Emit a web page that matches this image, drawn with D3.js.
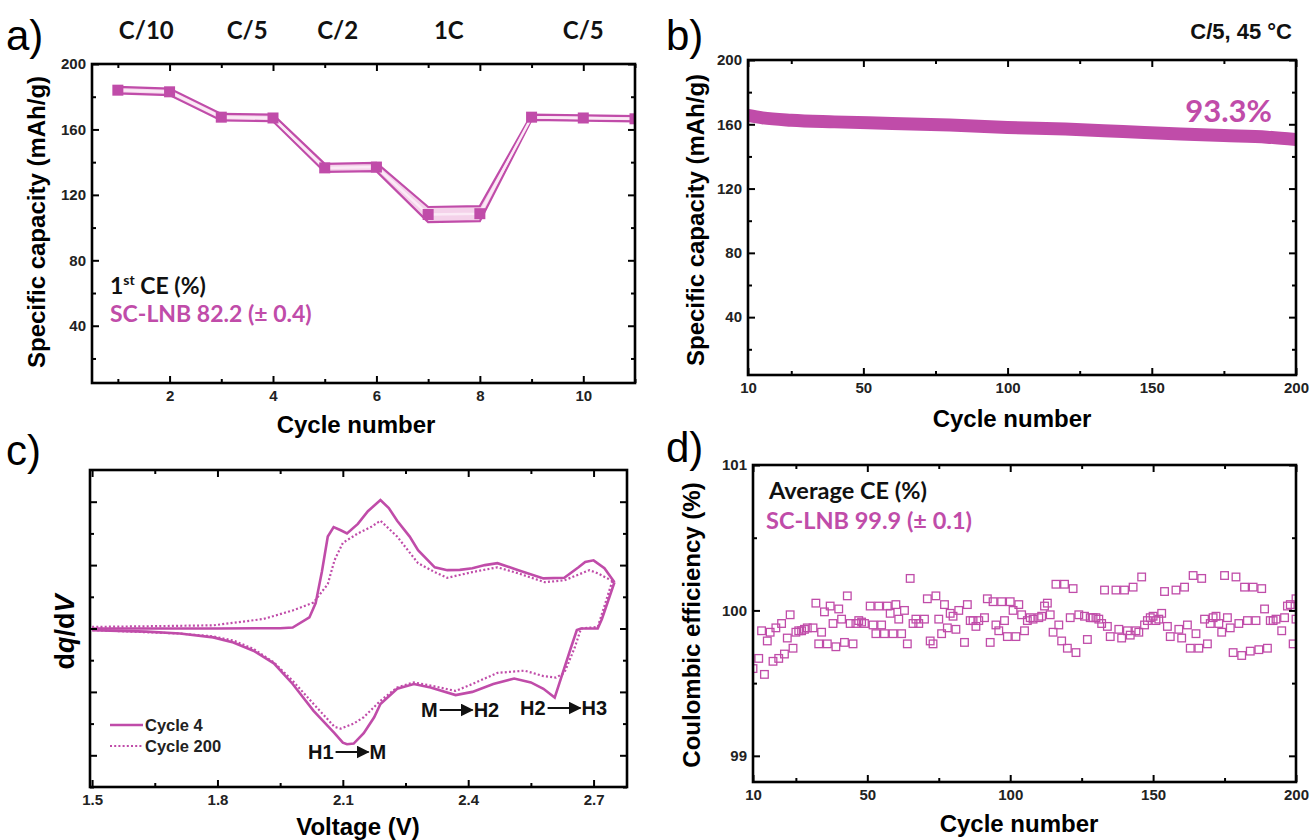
<!DOCTYPE html>
<html>
<head>
<meta charset="utf-8">
<script src="https://cdn.jsdelivr.net/npm/d3@7"></script>
<style>
  body { margin: 0; background: #fff; }
  text { font-family: "Liberation Sans", Arial, sans-serif; }
  .cal { font-family: Lato, "Open Sans", sans-serif; font-weight: 700; }
</style>
</head>
<body>
<svg id="fig" width="1311" height="840"></svg>
<script>
// ---- panel a : rate capability ----
const rateCycles = [1, 2, 3, 4, 5, 6, 7, 8, 9, 10, 11];
const rateMean = [184, 183, 167.5, 167, 136.5, 137, 108, 108.5, 167.5, 167, 166.5];
const rateErr = [2, 2, 2, 2, 2.5, 2.5, 4.6, 4.6, 1.6, 1.6, 1.6];
const rateLabels = ["C/10", "C/5", "C/2", "1C", "C/5"];
const rateLabelCycle = [1.55, 3.5, 5.25, 7.4, 10];

// ---- panel b : cycling at C/5, 45 °C ----
const cycCycles = [10, 15, 25, 40, 60, 80, 100, 120, 140, 160, 175, 190, 200];
const cycCapacity = [165.5, 164, 162.5, 161.5, 160.5, 159.5, 158, 157, 155.5, 154, 153, 152, 150.5];

// ---- panel c : dq/dV (arbitrary units) ----
const c4ChargeV = [1.5, 1.8, 1.95, 1.98, 2.02, 2.035, 2.05, 2.064, 2.078, 2.095, 2.11, 2.136, 2.16, 2.19, 2.21, 2.23, 2.26, 2.28, 2.32, 2.35, 2.38, 2.41, 2.44, 2.47, 2.52, 2.58, 2.63, 2.664, 2.68, 2.7, 2.726, 2.75];
const c4Charge = [0, 0, 0.01, 0.03, 0.35, 0.8, 1.8, 2.9, 3.2, 3.1, 3.0, 3.3, 3.7, 4.05, 3.8, 3.4, 2.9, 2.47, 1.93, 1.84, 1.85, 1.9, 2.0, 2.06, 1.84, 1.58, 1.6, 1.93, 2.1, 2.15, 1.9, 1.46];
const c4DischargeV = [2.75, 2.72, 2.71, 2.67, 2.66, 2.646, 2.607, 2.58, 2.55, 2.51, 2.46, 2.41, 2.37, 2.31, 2.27, 2.23, 2.19, 2.175, 2.15, 2.126, 2.11, 2.1, 2.08, 2.03, 1.98, 1.935, 1.886, 1.838, 1.79, 1.71, 1.63, 1.5];
const c4Discharge = [1.46, 0.3, 0.0, 0.0, -0.05, -0.6, -2.18, -1.9, -1.7, -1.58, -1.75, -2.0, -2.1, -1.86, -1.75, -1.9, -2.38, -2.8, -3.3, -3.63, -3.65, -3.6, -3.3, -2.6, -1.75, -1.1, -0.7, -0.44, -0.28, -0.16, -0.1, -0.05];
const c200ChargeV = [1.5, 1.63, 1.79, 1.91, 1.98, 2.03, 2.064, 2.08, 2.1, 2.136, 2.167, 2.19, 2.23, 2.28, 2.32, 2.35, 2.41, 2.47, 2.52, 2.583, 2.63, 2.69, 2.71, 2.745];
const c200Charge = [0.05, 0.07, 0.1, 0.3, 0.57, 0.82, 1.4, 2.15, 2.7, 3.0, 3.2, 3.4, 2.9, 2.06, 1.78, 1.6, 1.78, 1.93, 1.74, 1.46, 1.52, 1.84, 1.74, 1.5];
const c200DischargeV = [2.745, 2.71, 2.67, 2.655, 2.63, 2.61, 2.58, 2.535, 2.47, 2.41, 2.37, 2.31, 2.27, 2.23, 2.19, 2.15, 2.126, 2.095, 2.08, 2.03, 1.98, 1.935, 1.886, 1.838, 1.79, 1.71, 1.5];
const c200Discharge = [1.5, 0.05, 0.0, -0.6, -1.4, -1.55, -1.5, -1.33, -1.4, -1.75, -1.97, -1.8, -1.7, -1.86, -2.28, -2.8, -3.0, -3.16, -3.1, -2.38, -1.65, -1.07, -0.64, -0.38, -0.25, -0.16, -0.05];

// ---- panel d : coulombic efficiency ----
const ceCycles = [10, 12, 13, 14, 15, 16, 17, 18, 19, 20, 21, 22, 23, 24, 25, 26, 27, 28, 29, 31, 32, 33, 34, 35, 36, 37, 38, 39, 40, 41,
  42, 43, 44, 45, 46, 47, 48, 49, 51, 52, 53, 54, 55, 56, 57, 58, 59, 60, 61, 62, 63, 64, 65, 66, 67, 68, 70, 71, 72, 73,
  74, 75, 76, 77, 78, 79, 80, 81, 82, 84, 85, 86, 87, 88, 89, 91, 92, 93, 94, 95, 96, 97, 98, 99, 100, 101, 102, 103, 104, 105,
  106, 107, 108, 110, 111, 112, 113, 114, 115, 116, 117, 118, 119, 120, 121, 122, 123, 124, 126, 127, 128, 129, 130, 131, 132, 133, 134, 135, 137, 138,
  139, 140, 141, 142, 143, 144, 145, 146, 147, 148, 149, 150, 151, 152, 153, 154, 155, 156, 158, 159, 160, 161, 162, 163, 164, 165, 166, 167, 168, 169,
  170, 171, 172, 173, 174, 175, 176, 177, 178, 179, 180, 181, 182, 183, 184, 185, 186, 187, 188, 189, 190, 191, 192, 193, 195, 196, 197, 198, 199, 200, 200];
const ceValues = [99.60, 99.67, 99.86, 99.56, 99.79, 99.85, 99.65, 99.88, 99.67, 99.91, 99.70, 99.81, 99.97, 99.74, 99.85, 99.86, 99.86, 99.87, 99.88, 99.88, 100.05, 99.77, 99.85, 99.99, 99.77, 100.03, 99.91, 99.75, 100.01, 99.94,
  99.78, 100.10, 99.91, 99.77, 99.91, 99.93, 99.92, 99.91, 100.03, 99.90, 99.84, 100.03, 99.90, 99.84, 100.03, 99.98, 99.84, 100.04, 99.94, 99.84, 100.00, 99.77, 100.22, 99.91, 99.94, 99.91, 99.94, 100.08, 99.79, 99.77,
  100.10, 99.94, 99.84, 100.04, 99.88, 99.98, 99.96, 99.87, 100.00, 99.78, 100.04, 99.93, 99.93, 99.89, 99.93, 99.95, 100.08, 99.78, 100.06, 99.90, 99.86, 100.06, 99.93, 99.82, 100.06, 100.00, 99.82, 100.04, 99.97, 99.86,
  99.93, 99.95, 99.94, 99.95, 99.96, 100.03, 100.05, 99.97, 99.85, 100.18, 99.90, 99.79, 100.18, 99.74, 99.95, 100.15, 99.71, 99.97, 99.96, 99.80, 99.95, 99.95, 99.95, 99.94, 99.91, 100.14, 99.89, 99.82, 100.14, 99.87,
  99.81, 100.14, 99.86, 99.83, 100.16, 99.86, 99.85, 100.23, 99.90, 99.93, 99.95, 99.96, 99.93, 99.94, 99.98, 100.13, 99.89, 99.82, 100.14, 99.87, 99.81, 100.16, 99.90, 99.74, 100.24, 99.84, 99.74, 100.22, 99.94, 99.77,
  99.91, 99.95, 99.96, 99.91, 99.85, 100.24, 99.95, 99.88, 99.71, 100.23, 99.91, 99.69, 100.16, 99.93, 99.72, 100.16, 99.93, 99.73, 100.15, 100.01, 99.74, 99.93, 99.93, 99.94, 99.86, 99.95, 100.03, 100.04, 99.77, 99.94, 100.08];

const pink = "#c04ca9";
const bandFill = "#f4d2ea";
const svg = d3.select("#fig");
const defs = svg.append("defs");

// draws box with inward ticks on all four sides
function frame(x, y, xMajor, xMinor, yMajor, yMinor, xFmt, yFmt) {
  const g = svg.append("g");
  const [l, r] = x.range(), [b, t] = y.range();
  const none = () => "";
  g.append("g").attr("transform", `translate(0,${b})`)
    .call(d3.axisBottom(x).tickValues(xMajor).tickSize(-7).tickPadding(7).tickFormat(xFmt || none));
  g.append("g").attr("transform", `translate(0,${t})`)
    .call(d3.axisTop(x).tickValues(xMajor).tickSize(-7).tickFormat(none));
  g.append("g").attr("transform", `translate(${l},0)`)
    .call(d3.axisLeft(y).tickValues(yMajor).tickSize(-7).tickPadding(6).tickFormat(yFmt || none));
  g.append("g").attr("transform", `translate(${r},0)`)
    .call(d3.axisRight(y).tickValues(yMajor).tickSize(-7).tickFormat(none));
  g.append("g").attr("transform", `translate(0,${b})`)
    .call(d3.axisBottom(x).tickValues(xMinor).tickSize(-4).tickFormat(none));
  g.append("g").attr("transform", `translate(0,${t})`)
    .call(d3.axisTop(x).tickValues(xMinor).tickSize(-4).tickFormat(none));
  g.append("g").attr("transform", `translate(${l},0)`)
    .call(d3.axisLeft(y).tickValues(yMinor).tickSize(-4).tickFormat(none));
  g.append("g").attr("transform", `translate(${r},0)`)
    .call(d3.axisRight(y).tickValues(yMinor).tickSize(-4).tickFormat(none));
  g.selectAll(".domain").remove();
  g.selectAll(".tick line").attr("stroke", "#000").attr("stroke-width", 2);
  g.selectAll(".tick text").attr("font-size", 15).attr("font-weight", "bold")
    .attr("fill", "#222").attr("font-family", "'Liberation Sans', Arial, sans-serif");
  g.append("rect").attr("x", l).attr("y", t).attr("width", r - l).attr("height", b - t)
    .attr("fill", "none").attr("stroke", "#000").attr("stroke-width", 2.6);
}

function clip(id, x, y) {
  const [l, r] = x.range(), [b, t] = y.range();
  defs.append("clipPath").attr("id", id).append("rect")
    .attr("x", l).attr("y", t).attr("width", r - l).attr("height", b - t);
  return svg.append("g").attr("clip-path", `url(#${id})`);
}

function panelLetter(txt, x, y) {
  svg.append("text").attr("x", x).attr("y", y).attr("font-size", 42).text(txt);
}

function yTitle(txt, x, y) {
  return svg.append("text").attr("transform", `translate(${x},${y}) rotate(-90)`)
    .attr("text-anchor", "middle").attr("font-size", 24).attr("font-weight", "bold").text(txt);
}

function xTitle(txt, x, y) {
  return svg.append("text").attr("x", x).attr("y", y)
    .attr("text-anchor", "middle").attr("font-size", 24).attr("font-weight", "bold").text(txt);
}

// ================= a) =================
const xa = d3.scaleLinear().domain([0.5, 11]).range([92, 635]);
const ya = d3.scaleLinear().domain([5, 200]).range([383, 64]);
const ga = clip("clipA", xa, ya);
ga.append("path")
  .datum(rateCycles)
  .attr("d", d3.area()
    .x((d) => xa(d))
    .y0((d, i) => ya(rateMean[i] - rateErr[i]))
    .y1((d, i) => ya(rateMean[i] + rateErr[i])))
  .attr("fill", bandFill).attr("stroke", pink).attr("stroke-width", 2.2);
ga.append("path")
  .datum(rateCycles)
  .attr("d", d3.line().x((d) => xa(d)).y((d, i) => ya(rateMean[i])))
  .attr("fill", "none").attr("stroke", "#fbeaf6").attr("stroke-width", 2.5);
ga.selectAll(".sq").data(rateCycles).enter().append("rect")
  .attr("x", (d) => xa(d) - 5.5).attr("y", (d, i) => ya(rateMean[i]) - 5.5)
  .attr("width", 11).attr("height", 11).attr("fill", pink);
frame(xa, ya, [2, 4, 6, 8, 10], [1, 3, 5, 7, 9, 11], [40, 80, 120, 160, 200], [20, 60, 100, 140, 180],
  d3.format("d"), d3.format("d"));
svg.selectAll(".rate").data(rateLabels).enter().append("text")
  .attr("class", "cal").attr("x", (d, i) => xa(rateLabelCycle[i])).attr("y", 39)
  .attr("text-anchor", "middle").attr("font-size", 24).attr("fill", "#111").text((d) => d);
const ceA = svg.append("text").attr("class", "cal").attr("x", 110).attr("y", 294).attr("font-size", 23).attr("fill", "#111");
ceA.append("tspan").text("1");
ceA.append("tspan").attr("font-size", 14).attr("dy", -9).text("st");
ceA.append("tspan").attr("dy", 9).text(" CE (%)");
svg.append("text").attr("class", "cal").attr("x", 110).attr("y", 322).attr("font-size", 23)
  .attr("fill", pink).text("SC-LNB 82.2 (\u00b1 0.4)");
panelLetter("a)", 6, 50);
yTitle("Specific capacity (mAh/g)", 45, 222);
xTitle("Cycle number", 356, 433);

// ================= b) =================
const xb = d3.scaleLinear().domain([10, 200]).range([748, 1296]);
const yb = d3.scaleLinear().domain([4, 200]).range([375, 60]);
const gb = clip("clipB", xb, yb);
gb.append("path")
  .datum(cycCycles)
  .attr("d", d3.line().curve(d3.curveMonotoneX).x((d) => xb(d)).y((d, i) => yb(cycCapacity[i])))
  .attr("fill", "none").attr("stroke", pink).attr("stroke-width", 13);
frame(xb, yb, [10, 50, 100, 150, 200], [25, 75, 125, 175], [40, 80, 120, 160, 200], [20, 60, 100, 140, 180],
  d3.format("d"), d3.format("d"));
svg.append("text").attr("class", "cal").attr("x", 1272).attr("y", 122).attr("text-anchor", "end")
  .attr("font-size", 31).attr("fill", pink).text("93.3%");
svg.append("text").attr("x", 1292).attr("y", 39).attr("text-anchor", "end")
  .attr("font-size", 22).attr("font-weight", "bold").attr("fill", "#111").text("C/5, 45 \u00b0C");
panelLetter("b)", 666, 50);
yTitle("Specific capacity (mAh/g)", 704, 220);
xTitle("Cycle number", 1012, 427);

// ================= c) =================
const xc = d3.scaleLinear().domain([1.495, 2.78]).range([90, 627]);
const yc = d3.scaleLinear().domain([-5, 5]).range([787, 470]);
const gc = clip("clipC", xc, yc);
const vLine = (vs, vals) => d3.line().x((d) => xc(d)).y((d, i) => yc(vals[i]))(vs);
gc.append("path").attr("d", vLine(c200ChargeV, c200Charge))
  .attr("fill", "none").attr("stroke", pink).attr("stroke-width", 2.2).attr("stroke-dasharray", "2,2.2");
gc.append("path").attr("d", vLine(c200DischargeV, c200Discharge))
  .attr("fill", "none").attr("stroke", pink).attr("stroke-width", 2.2).attr("stroke-dasharray", "2,2.2");
gc.append("path").attr("d", vLine(c4ChargeV, c4Charge))
  .attr("fill", "none").attr("stroke", pink).attr("stroke-width", 2.6);
gc.append("path").attr("d", vLine(c4DischargeV, c4Discharge))
  .attr("fill", "none").attr("stroke", pink).attr("stroke-width", 2.6);
frame(xc, yc, [1.5, 1.8, 2.1, 2.4, 2.7], [1.65, 1.95, 2.25, 2.55], [-4, -2, 0, 2, 4], [-5, -3, -1, 1, 3],
  d3.format(".1f"), null);
// legend
svg.append("line").attr("x1", 110).attr("x2", 143).attr("y1", 725).attr("y2", 725)
  .attr("stroke", pink).attr("stroke-width", 2.6);
svg.append("line").attr("x1", 110).attr("x2", 143).attr("y1", 746).attr("y2", 746)
  .attr("stroke", pink).attr("stroke-width", 2.2).attr("stroke-dasharray", "2,2.2");
svg.append("text").attr("x", 145).attr("y", 731).attr("font-size", 16.5).attr("font-weight", "bold").attr("fill", "#222").text("Cycle 4");
svg.append("text").attr("x", 145).attr("y", 752).attr("font-size", 16.5).attr("font-weight", "bold").attr("fill", "#222").text("Cycle 200");
// phase transition labels
defs.append("marker").attr("id", "arrow").attr("markerUnits", "userSpaceOnUse")
  .attr("markerWidth", 13).attr("markerHeight", 13).attr("refX", 12).attr("refY", 6.5).attr("orient", "auto")
  .append("path").attr("d", "M0,0 L13,6.5 L0,13 Z").attr("fill", "#111");
const transitions = [
  { from: "H1", to: "M", x: 308, y: 752 },
  { from: "M", to: "H2", x: 421, y: 710 },
  { from: "H2", to: "H3", x: 520, y: 708 }
];
transitions.forEach((t) => {
  const a = svg.append("text").attr("x", t.x).attr("y", t.y + 7).attr("font-size", 20)
    .attr("font-weight", "bold").attr("fill", "#111").text(t.from);
  const w = a.node().getComputedTextLength();
  const x1 = t.x + w + 2, x2 = x1 + 33;
  svg.append("line").attr("x1", x1).attr("x2", x2).attr("y1", t.y).attr("y2", t.y)
    .attr("stroke", "#111").attr("stroke-width", 2).attr("marker-end", "url(#arrow)");
  svg.append("text").attr("x", x2 + 1).attr("y", t.y + 7).attr("font-size", 20)
    .attr("font-weight", "bold").attr("fill", "#111").text(t.to);
});
panelLetter("c)", 6, 465);
const dq = svg.append("text").attr("transform", "translate(74,632) rotate(-90)")
  .attr("text-anchor", "middle").attr("font-size", 27).attr("font-weight", "bold");
dq.append("tspan").text("d");
dq.append("tspan").attr("font-style", "italic").text("q");
dq.append("tspan").text("/d");
dq.append("tspan").attr("font-style", "italic").text("V");
xTitle("Voltage (V)", 358, 835);

// ================= d) =================
const xd = d3.scaleLinear().domain([10, 200]).range([753, 1296]);
const yd = d3.scaleLinear().domain([98.82, 101]).range([782, 465]);
const gd = clip("clipD", xd, yd);
gd.selectAll(".ce").data(ceCycles).enter().append("rect")
  .attr("x", (d) => xd(d) - 3.8).attr("y", (d, i) => yd(ceValues[i]) - 3.8)
  .attr("width", 7.6).attr("height", 7.6)
  .attr("fill", "none").attr("stroke", pink).attr("stroke-width", 1.3);
frame(xd, yd, [10, 50, 100, 150, 200], [25, 75, 125, 175], [99, 100, 101], [99.5, 100.5],
  d3.format("d"), d3.format("d"));
svg.append("text").attr("class", "cal").attr("x", 769).attr("y", 499).attr("font-size", 23.5)
  .attr("fill", "#111").text("Average CE (%)");
svg.append("text").attr("class", "cal").attr("x", 766).attr("y", 529).attr("font-size", 23.5)
  .attr("fill", pink).text("SC-LNB 99.9 (\u00b1 0.1)");
panelLetter("d)", 666, 462);
yTitle("Coulombic efficiency (%)", 700, 625);
xTitle("Cycle number", 1019, 832);
</script>
</body>
</html>
